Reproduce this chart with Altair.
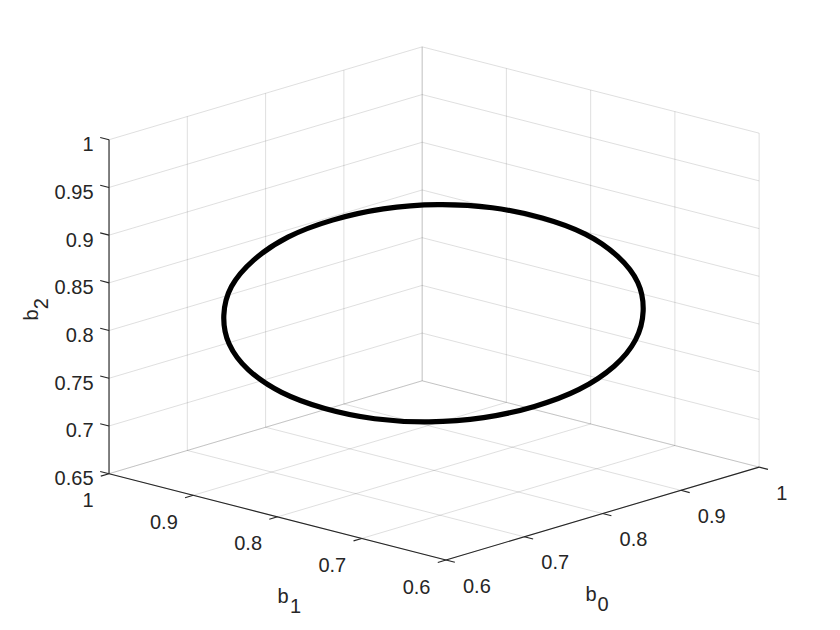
import math
import altair as alt
import pandas as pd

# ---------------- data ----------------
b0_ticks = [0.6, 0.7, 0.8, 0.9, 1.0]
b0_labels = ["0.6", "0.7", "0.8", "0.9", "1"]
b1_ticks = [0.6, 0.7, 0.8, 0.9, 1.0]
b1_labels = ["0.6", "0.7", "0.8", "0.9", "1"]
b2_ticks = [0.65, 0.7, 0.75, 0.8, 0.85, 0.9, 0.95, 1.0]
b2_labels = ["0.65", "0.7", "0.75", "0.8", "0.85", "0.9", "0.95", "1"]

# points of the black closed curve (b0, b1, b2)
curve_b0 = [0.939, 0.954, 0.960, 0.954, 0.939, 0.916, 0.885, 0.849, 0.810, 0.771, 0.735, 0.704,
            0.681, 0.666, 0.661, 0.666, 0.681, 0.704, 0.735, 0.771, 0.810, 0.849, 0.885, 0.916]
curve_b1 = [0.681, 0.704, 0.735, 0.771, 0.810, 0.849, 0.885, 0.916, 0.939, 0.954, 0.960, 0.954,
            0.939, 0.916, 0.885, 0.849, 0.810, 0.771, 0.735, 0.704, 0.681, 0.666, 0.661, 0.666]
curve_b2 = [0.810, 0.771, 0.735, 0.704, 0.681, 0.666, 0.661, 0.666, 0.681, 0.704, 0.735, 0.771,
            0.810, 0.849, 0.885, 0.916, 0.939, 0.954, 0.959, 0.954, 0.939, 0.916, 0.885, 0.849]

# ---------------- view (orthographic projection) ----------------
LIM0 = (0.6, 1.0)
LIM1 = (0.6, 1.0)
LIM2 = (0.65, 1.0)
AZ = math.radians(47.1)
EL = math.radians(16.0)
ZASPECT = 0.726


def project(b0, b1, b2):
    u = (b0 - LIM0[0]) / (LIM0[1] - LIM0[0])
    v = (b1 - LIM1[0]) / (LIM1[1] - LIM1[0])
    w = (b2 - LIM2[0]) / (LIM2[1] - LIM2[0])
    px = math.cos(AZ) * u - math.sin(AZ) * v
    py = math.sin(AZ) * math.sin(EL) * u + math.cos(AZ) * math.sin(EL) * v + ZASPECT * w
    return px, py


def seg_rows(segs):
    rows = []
    for (a, b) in segs:
        x1, y1 = project(*a)
        x2, y2 = project(*b)
        rows.append({"x": x1, "y": y1, "x2": x2, "y2": y2})
    return pd.DataFrame(rows)


lo0, hi0 = LIM0
lo1, hi1 = LIM1
lo2, hi2 = LIM2

grid = []
for z in b2_ticks:
    grid.append(((lo0, hi1, z), (hi0, hi1, z)))   # wall b1 = max
    grid.append(((hi0, lo1, z), (hi0, hi1, z)))   # wall b0 = max
for t in b0_ticks:
    grid.append(((t, hi1, lo2), (t, hi1, hi2)))
    grid.append(((t, lo1, lo2), (t, hi1, lo2)))   # floor
for t in b1_ticks:
    grid.append(((hi0, t, lo2), (hi0, t, hi2)))
    grid.append(((lo0, t, lo2), (hi0, t, lo2)))   # floor
grid_df = seg_rows(grid)

axes_df = seg_rows([
    ((lo0, hi1, lo2), (lo0, hi1, hi2)),
    ((lo0, lo1, lo2), (lo0, hi1, lo2)),
    ((lo0, lo1, lo2), (hi0, lo1, lo2)),
])

TL = 0.0105
ticks = []
for z in b2_ticks:
    ticks.append(((lo0, hi1, z), (lo0, hi1 + TL, z)))
for t in b1_ticks:
    ticks.append(((lo0, t, lo2), (lo0 - TL, t, lo2)))
for t in b0_ticks:
    ticks.append(((t, lo1, lo2), (t, lo1 - TL, lo2)))
ticks_df = seg_rows(ticks)

curve_rows = []
for i, (a, b, c) in enumerate(zip(curve_b0, curve_b1, curve_b2)):
    x, y = project(a, b, c)
    curve_rows.append({"x": x, "y": y, "i": i})
curve_df = pd.DataFrame(curve_rows)


def label_df(points, labels):
    rows = []
    for p, s in zip(points, labels):
        x, y = project(*p)
        rows.append({"x": x, "y": y, "t": s})
    return pd.DataFrame(rows)


z_lab = label_df([(lo0, hi1, z) for z in b2_ticks], b2_labels)
b1_lab = label_df([(lo0, t, lo2) for t in b1_ticks], b1_labels)
b0_lab = label_df([(t, lo1, lo2) for t in b0_ticks], b0_labels)

mid_z = label_df([(lo0, hi1, (lo2 + hi2) / 2)], [""])
mid_b1 = label_df([(lo0, (lo1 + hi1) / 2, lo2)], [""])
mid_b0 = label_df([((lo0 + hi0) / 2, lo1, lo2)], [""])

# ---------------- scales ----------------
W, H = 824, 614
XS = alt.Scale(domain=[-0.95217, 0.83913], nice=False, zero=False)
YS = alt.Scale(domain=[-0.13478, 1.2], nice=False, zero=False)
FONT = "Liberation Sans"
TXT = "#262626"


def xy():
    return dict(x=alt.X("x:Q", scale=XS, axis=None), y=alt.Y("y:Q", scale=YS, axis=None))


def seg_enc():
    return dict(x=alt.X("x:Q", scale=XS, axis=None), y=alt.Y("y:Q", scale=YS, axis=None),
                x2="x2:Q", y2="y2:Q")


grid_layer = alt.Chart(grid_df).mark_rule(color="#262626", strokeOpacity=0.15, strokeWidth=1).encode(**seg_enc())
axes_layer = alt.Chart(axes_df).mark_rule(color="#262626", strokeWidth=1.1).encode(**seg_enc())
ticks_layer = alt.Chart(ticks_df).mark_rule(color="#262626", strokeWidth=1.1).encode(**seg_enc())

curve_layer = alt.Chart(curve_df).mark_line(
    interpolate="cardinal-closed", color="black", strokeWidth=5.2, strokeJoin="round"
).encode(**xy(), order="i:Q")

z_text = alt.Chart(z_lab).mark_text(align="right", dx=-15.5, dy=5.5, fontSize=20, font=FONT, color=TXT).encode(**xy(), text="t:N")
b1_text = alt.Chart(b1_lab).mark_text(align="right", dx=-15.5, dy=27.5, fontSize=20, font=FONT, color=TXT).encode(**xy(), text="t:N")
b0_text = alt.Chart(b0_lab).mark_text(align="left", dx=17, dy=26.5, fontSize=20, font=FONT, color=TXT).encode(**xy(), text="t:N")

# axis titles b_2, b_1, b_0 (letter + subscript)
t_b2 = alt.Chart(mid_z).mark_text(text="b", angle=270, align="left", dx=-13.8, dy=-77.4, fontSize=20, font=FONT, color=TXT).encode(**xy())
t_b2s = alt.Chart(mid_z).mark_text(text="2", angle=270, align="left", dx=-2.5, dy=-67.4, fontSize=20, font=FONT, color=TXT).encode(**xy())
t_b1 = alt.Chart(mid_b1).mark_text(text="b", align="left", dx=0, dy=80, fontSize=20, font=FONT, color=TXT).encode(**xy())
t_b1s = alt.Chart(mid_b1).mark_text(text="1", align="left", dx=12.5, dy=90, fontSize=20, font=FONT, color=TXT).encode(**xy())
t_b0 = alt.Chart(mid_b0).mark_text(text="b", align="left", dx=-17, dy=81.5, fontSize=20, font=FONT, color=TXT).encode(**xy())
t_b0s = alt.Chart(mid_b0).mark_text(text="0", align="left", dx=-5, dy=91.5, fontSize=20, font=FONT, color=TXT).encode(**xy())

chart = alt.layer(
    grid_layer, axes_layer, ticks_layer, curve_layer,
    z_text, b1_text, b0_text, t_b2, t_b2s, t_b1, t_b1s, t_b0, t_b0s
).properties(
    width=W, height=H, padding=0, autosize=alt.AutoSizeParams(type="none"), background="white"
).configure_view(strokeOpacity=0)

chart.save("out.html", embed_options={"renderer": "svg", "actions": False})
